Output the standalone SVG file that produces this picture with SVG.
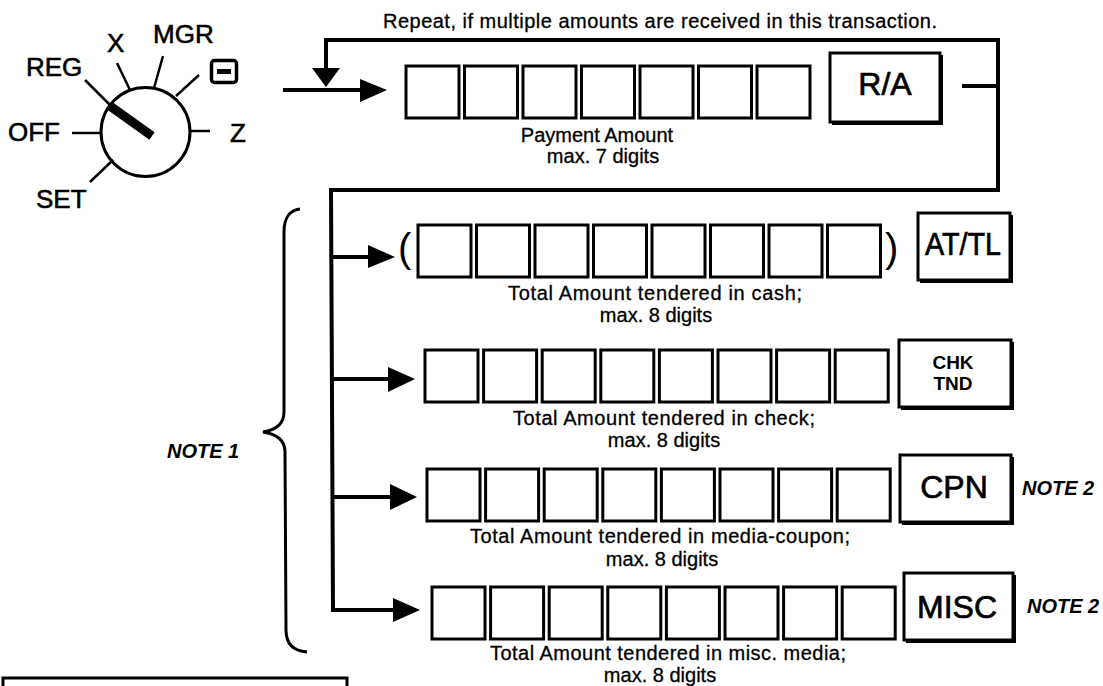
<svg xmlns="http://www.w3.org/2000/svg" xmlns:xlink="http://www.w3.org/1999/xlink" width="1103" height="686" viewBox="0 0 1103 686">
<style>
.ln{stroke:#000;stroke-width:4;fill:none}
.th{stroke:#000;stroke-width:2.5;fill:none}
.bx{fill:#fff;stroke:#000;stroke-width:3}
.key{fill:#fff;stroke:#000;stroke-width:3}
.sh{fill:none;stroke:#000;stroke-width:4}
.ah{fill:#000;stroke:none}
.t{font-family:"Liberation Sans",Arial,Helvetica,sans-serif;fill:#000}
.lbl{font-size:26px;stroke:#000;stroke-width:0.6}
.desc{font-size:20px;text-anchor:middle;stroke:#000;stroke-width:0.3}
.big{font-size:32px;text-anchor:middle;stroke:#000;stroke-width:0.7}
.note{font-size:20px;font-weight:bold;font-style:italic}
</style>
<defs>
<rect id="d" class="bx" width="53" height="52"/>
</defs>
<rect width="1103" height="686" fill="#fff"/>

<g id="mode-dial">
<circle cx="145.5" cy="132" r="44.5" fill="#fff" stroke="#000" stroke-width="3"/>
<line class="th" x1="72" y1="133" x2="101" y2="133"/>
<line class="th" x1="190" y1="131" x2="210" y2="131"/>
<line class="th" x1="90" y1="182" x2="113" y2="160"/>
<line class="th" x1="176" y1="96" x2="199" y2="75"/>
<line class="th" x1="154" y1="88" x2="163" y2="56"/>
<line class="th" x1="130" y1="90" x2="117" y2="63"/>
<line class="th" x1="85" y1="80" x2="112" y2="107"/>
<line x1="110" y1="106" x2="152" y2="136" stroke="#000" stroke-width="9"/>
<text class="t lbl" x="26" y="76">REG</text>
<text class="t lbl" x="107" y="52">X</text>
<text class="t lbl" x="153" y="43">MGR</text>
<text class="t lbl" x="8" y="141">OFF</text>
<text class="t lbl" x="230" y="142">Z</text>
<text class="t lbl" x="36" y="208">SET</text>
<rect x="211.5" y="60.5" width="25" height="22" rx="3" fill="#fff" stroke="#000" stroke-width="3.5"/>
<rect x="217" y="69" width="14" height="5" fill="#000"/>
</g>

<g id="connectors">
<polyline class="ln" points="283,90 362,90"/>
<polygon class="ah" points="360,79 387,90 360,102"/>
<polyline class="ln" points="962,86 998,86"/>
<polyline class="ln" points="326,70 326,40 998,40 998,190 330,190"/>
<polygon class="ah" points="312,68 340,68 326,87"/>
<polyline class="ln" points="331,188 333,610 395,610"/>
<line class="ln" x1="331" y1="257" x2="370" y2="257"/>
<polygon class="ah" points="368,245 395,257 368,268"/>
<line class="ln" x1="332" y1="379" x2="390" y2="379"/>
<polygon class="ah" points="388,367 415,379 388,392"/>
<line class="ln" x1="332" y1="497" x2="392" y2="497"/>
<polygon class="ah" points="390,484 417,497 390,510"/>
<polygon class="ah" points="393,598 420,610 393,622"/>
</g>

<g id="repeat-label">
<text class="t" x="383" y="28" font-size="20" stroke="#000" stroke-width="0.3" textLength="554" lengthAdjust="spacing">Repeat, if multiple amounts are received in this transaction.</text>
</g>

<g id="payment-amount">
<use xlink:href="#d" x="406" y="66"/>
<use xlink:href="#d" x="464.5" y="66"/>
<use xlink:href="#d" x="523" y="66"/>
<use xlink:href="#d" x="581.5" y="66"/>
<use xlink:href="#d" x="640" y="66"/>
<use xlink:href="#d" x="698.5" y="66"/>
<use xlink:href="#d" x="757" y="66"/>
<text class="t desc" x="597" y="142">Payment Amount</text>
<text class="t desc" x="603" y="163">max. 7 digits</text>
</g>

<g id="key-ra">
<rect class="key" x="830" y="53" width="110" height="69"/>
<path class="sh" d="M941,55 V123 H832"/>
<text class="t big" x="885" y="95">R/A</text>
</g>

<g id="cash-amount">
<text class="t" x="398" y="262" font-size="40">(</text>
<use xlink:href="#d" x="418" y="225"/>
<use xlink:href="#d" x="476.5" y="225"/>
<use xlink:href="#d" x="535" y="225"/>
<use xlink:href="#d" x="593.5" y="225"/>
<use xlink:href="#d" x="652" y="225"/>
<use xlink:href="#d" x="710.5" y="225"/>
<use xlink:href="#d" x="769" y="225"/>
<use xlink:href="#d" x="827.5" y="225"/>
<text class="t" x="885" y="262" font-size="40">)</text>
<text class="t desc" x="655" y="300" textLength="294" lengthAdjust="spacing">Total Amount tendered in cash;</text>
<text class="t desc" x="656" y="322">max. 8 digits</text>
</g>

<g id="key-attl">
<rect class="key" x="918" y="213" width="92" height="67"/>
<path class="sh" d="M1011,215 V281 H920"/>
<text class="t big" x="963" y="255" font-size="28" textLength="76" lengthAdjust="spacingAndGlyphs">AT/TL</text>
</g>

<g id="check-amount">
<use xlink:href="#d" x="425" y="350"/>
<use xlink:href="#d" x="483.6" y="350"/>
<use xlink:href="#d" x="542.2" y="350"/>
<use xlink:href="#d" x="600.8" y="350"/>
<use xlink:href="#d" x="659.4" y="350"/>
<use xlink:href="#d" x="718" y="350"/>
<use xlink:href="#d" x="776.6" y="350"/>
<use xlink:href="#d" x="835.2" y="350"/>
<text class="t desc" x="664" y="425" textLength="302" lengthAdjust="spacing">Total Amount tendered in check;</text>
<text class="t desc" x="664" y="447">max. 8 digits</text>
</g>

<g id="key-chk">
<rect class="key" x="899" y="340" width="112" height="67"/>
<path class="sh" d="M1012,342 V408 H901"/>
<text class="t" x="953" y="369" font-size="19" font-weight="bold" text-anchor="middle">CHK</text>
<text class="t" x="953" y="390" font-size="19" font-weight="bold" text-anchor="middle">TND</text>
</g>

<g id="coupon-amount">
<use xlink:href="#d" x="427" y="469"/>
<use xlink:href="#d" x="485.6" y="469"/>
<use xlink:href="#d" x="544.2" y="469"/>
<use xlink:href="#d" x="602.8" y="469"/>
<use xlink:href="#d" x="661.4" y="469"/>
<use xlink:href="#d" x="720" y="469"/>
<use xlink:href="#d" x="778.6" y="469"/>
<use xlink:href="#d" x="837.2" y="469"/>
<text class="t desc" x="660" y="543" textLength="380" lengthAdjust="spacing">Total Amount tendered in media-coupon;</text>
<text class="t desc" x="662" y="566">max. 8 digits</text>
</g>

<g id="key-cpn">
<rect class="key" x="900" y="455" width="111" height="67"/>
<path class="sh" d="M1012,457 V523 H902"/>
<text class="t big" x="954" y="498">CPN</text>
<text class="t note" x="1022" y="495">NOTE 2</text>
</g>

<g id="misc-amount">
<use xlink:href="#d" x="432" y="587"/>
<use xlink:href="#d" x="490.6" y="587"/>
<use xlink:href="#d" x="549.2" y="587"/>
<use xlink:href="#d" x="607.8" y="587"/>
<use xlink:href="#d" x="666.4" y="587"/>
<use xlink:href="#d" x="725" y="587"/>
<use xlink:href="#d" x="783.6" y="587"/>
<use xlink:href="#d" x="842.2" y="587"/>
<text class="t desc" x="668" y="660" textLength="356" lengthAdjust="spacing">Total Amount tendered in misc. media;</text>
<text class="t desc" x="660" y="682">max. 8 digits</text>
</g>

<g id="key-misc">
<rect class="key" x="904" y="573" width="109" height="67"/>
<path class="sh" d="M1014,575 V641 H906"/>
<text class="t big" x="957" y="618">MISC</text>
<text class="t note" x="1027" y="613">NOTE 2</text>
</g>

<g id="note1">
<path d="M300,209 C290,210 284,218 284,232 L284,412 C284,424 276,430 263,432 C276,434 285,440 285,452 L286,630 C286,644 294,651 307,652" fill="none" stroke="#000" stroke-width="3"/>
<text class="t note" x="167" y="458">NOTE 1</text>
</g>

<g id="bottom-box">
<polyline points="3,690 3,678 347,678 347,690" fill="none" stroke="#000" stroke-width="3"/>
</g>
</svg>
